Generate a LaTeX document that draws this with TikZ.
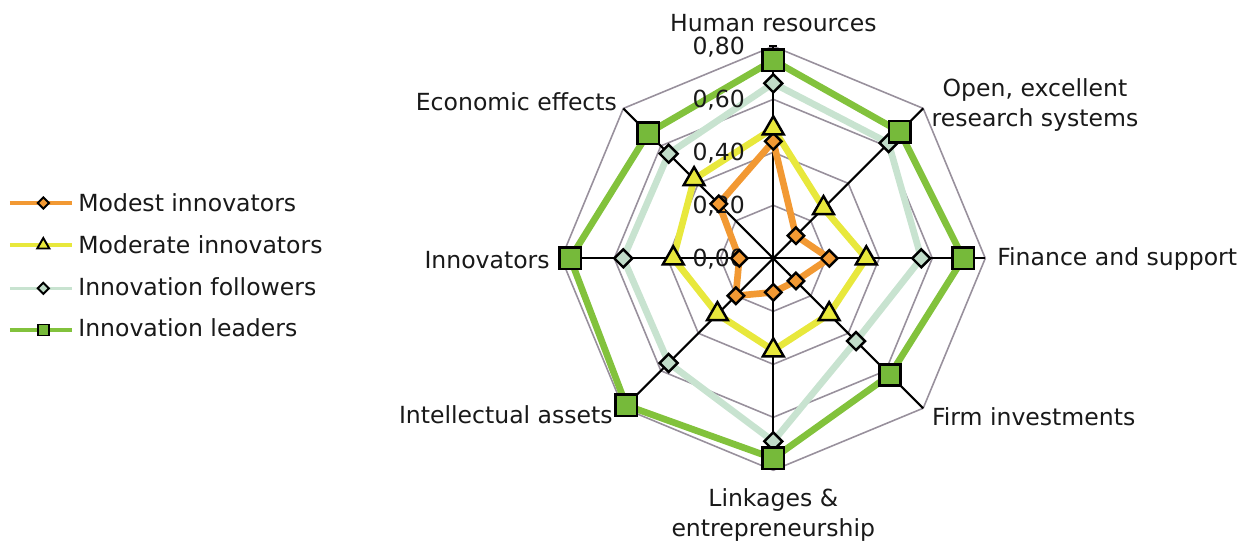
\documentclass[tikz,border=0pt]{standalone}
\usepackage{fontspec}
\setmainfont{DejaVu Sans}
\usetikzlibrary{shapes.geometric}

\pgfdeclarelayer{back}
\pgfdeclarelayer{lines}
\pgfsetlayers{back,lines,main}

\definecolor{gridgray}{RGB}{152,144,156}
\definecolor{modestc}{RGB}{242,153,51}
\definecolor{moderatec}{RGB}{232,232,60}
\definecolor{followerc}{RGB}{200,227,208}
\definecolor{followerfill}{RGB}{192,220,200}
\definecolor{leaderc}{RGB}{130,194,60}
\definecolor{leaderfill}{RGB}{118,186,58}

\tikzset{
  gridline/.style={draw=gridgray, line width=0.9pt, line join=round},
  spoke/.style={draw=black, line width=1.2pt},
  serie/.style={line width=3.8pt, line join=round},
  legline/.style={line width=1.9pt},
  modestmark/.style={diamond, draw=black, line width=1.4pt, fill=modestc,
    minimum size=0.35cm, inner sep=0pt},
  moderatemark/.style={regular polygon, regular polygon sides=3, draw=black,
    line width=1.4pt, fill=moderatec, minimum size=0.48cm, inner sep=0pt},
  followermark/.style={diamond, draw=black, line width=1.4pt, fill=followerfill,
    minimum size=0.38cm, inner sep=0pt},
  leadermark/.style={rectangle, draw=black, line width=1.5pt, fill=leaderfill,
    minimum size=0.43cm, inner sep=0pt},
  lab/.style={font=\fontsize{13.4}{17}\selectfont, inner sep=0pt, text=black!90},
}

\begin{document}
\begin{tikzpicture}[x=0.02cm, y=0.02cm]
\useasboundingbox (-773.3,-283.7) rectangle (475.7,258.3);

\coordinate (o) at (0,0);
\coordinate (hr) at (90:212);
\coordinate (oe) at (45:212);
\coordinate (fs) at (0:212);
\coordinate (fi) at (-45:212);
\coordinate (le) at (-90:212);
\coordinate (ia) at (-135:212);
\coordinate (inv) at (180:212);
\coordinate (ee) at (135:212);
\coordinate (tka) at (-4,212);
\coordinate (tkb) at (4,212);

% grid and axes
\begin{pgfonlayer}{back}
\draw[gridline] (90:53) -- (45:53) -- (0:53) -- (-45:53) -- (-90:53) -- (-135:53) -- (180:53) -- (135:53) -- cycle;
\draw[gridline] (90:106) -- (45:106) -- (0:106) -- (-45:106) -- (-90:106) -- (-135:106) -- (180:106) -- (135:106) -- cycle;
\draw[gridline] (90:159) -- (45:159) -- (0:159) -- (-45:159) -- (-90:159) -- (-135:159) -- (180:159) -- (135:159) -- cycle;
\draw[gridline] (hr) -- (oe) -- (fs) -- (fi) -- (le) -- (ia) -- (inv) -- (ee) -- cycle;

\draw[spoke] (o) -- (hr);
\draw[spoke] (tka) -- (tkb);
\draw[spoke] (o) -- (oe);
\draw[spoke] (o) -- (fs);
\draw[spoke] (o) -- (fi);
\draw[spoke] (o) -- (le);
\draw[spoke] (o) -- (ia);
\draw[spoke] (o) -- (inv);
\draw[spoke] (o) -- (ee);
\end{pgfonlayer}

\node[lab, anchor=base east] (t0) at (-28,-8.5) {0,00};
\node[lab, anchor=base east] (t1) at (-28,44.5) {0,20};
\node[lab, anchor=base east] (t2) at (-28,97.5) {0,40};
\node[lab, anchor=base east] (t3) at (-28,150.5) {0,60};
\node[lab, anchor=base east] (t4) at (-28,203.5) {0,80};

% modest innovators
\node[modestmark] (a1) at (90:117) {};
\node[modestmark] (a2) at (45:32) {};
\node[modestmark] (a3) at (0:56) {};
\node[modestmark] (a4) at (-45:32) {};
\node[modestmark] (a5) at (-90:34) {};
\node[modestmark] (a6) at (-135:53) {};
\node[modestmark] (a7) at (180:34) {};
\node[modestmark] (a8) at (135:77) {};

% moderate innovators
\node[moderatemark] (b1) at (90:130) {};
\node[moderatemark] (b2) at (45:71) {};
\node[moderatemark] (b3) at (0:93) {};
\node[moderatemark] (b4) at (-45:79) {};
\node[moderatemark] (b5) at (-90:92) {};
\node[moderatemark] (b6) at (-135:79) {};
\node[moderatemark] (b7) at (180:100) {};
\node[moderatemark] (b8) at (135:112) {};

% innovation followers
\node[followermark] (c1) at (90:175) {};
\node[followermark] (c2) at (45:163) {};
\node[followermark] (c3) at (0:148) {};
\node[followermark] (c4) at (-45:117) {};
\node[followermark] (c5) at (-90:183) {};
\node[followermark] (c6) at (-135:148) {};
\node[followermark] (c7) at (180:150) {};
\node[followermark] (c8) at (135:148) {};

% innovation leaders
\node[leadermark] (d1) at (90:198) {};
\node[leadermark] (d2) at (45:179) {};
\node[leadermark] (d3) at (0:190) {};
\node[leadermark] (d4) at (-45:165) {};
\node[leadermark] (d5) at (-90:200) {};
\node[leadermark] (d6) at (-135:208) {};
\node[leadermark] (d7) at (180:203) {};
\node[leadermark] (d8) at (135:177) {};

\begin{pgfonlayer}{lines}
\draw[serie, modestc] (a1.center) -- (a2.center) -- (a3.center) -- (a4.center) -- (a5.center) -- (a6.center) -- (a7.center) -- (a8.center) -- cycle;
\draw[serie, moderatec] (b1.center) -- (b2.center) -- (b3.center) -- (b4.center) -- (b5.center) -- (b6.center) -- (b7.center) -- (b8.center) -- cycle;
\draw[serie, followerc] (c1.center) -- (c2.center) -- (c3.center) -- (c4.center) -- (c5.center) -- (c6.center) -- (c7.center) -- (c8.center) -- cycle;
\draw[serie, leaderc] (d1.center) -- (d2.center) -- (d3.center) -- (d4.center) -- (d5.center) -- (d6.center) -- (d7.center) -- (d8.center) -- cycle;
\end{pgfonlayer}

% axis labels
\node[lab, anchor=base] (hrl) at (0,227) {Human resources};
\node[lab, anchor=north, align=center] (oel) at (261.7,180) {Open, excellent\\research systems};
\node[lab, anchor=base west] (fsl) at (223.7,-6.7) {Finance and support};
\node[lab, anchor=base west] (fil) at (158.4,-166.7) {Firm investments};
\node[lab, anchor=north, align=center] (lel) at (0,-230) {Linkages \&\\entrepreneurship};
\node[lab, anchor=base east] (ial) at (-160.3,-165) {Intellectual assets};
\node[lab, anchor=base east] (invl) at (-223.3,-10) {Innovators};
\node[lab, anchor=base east] (eel) at (-156,148.3) {Economic effects};

% legend
\coordinate (l1a) at (-763.3,55.3);
\coordinate (l1b) at (-701.3,55.3);
\draw[legline, modestc] (l1a) -- (l1b);
\node[modestmark, minimum size=0.24cm, line width=1.1pt] (l1m) at (-730,55.3) {};
\node[lab, anchor=base west] (l1) at (-695.3,46.6) {Modest innovators};

\coordinate (l2a) at (-763.3,13.3);
\coordinate (l2b) at (-701.3,13.3);
\draw[legline, moderatec] (l2a) -- (l2b);
\node[moderatemark, minimum size=0.28cm, line width=1.1pt] (l2m) at (-730,13.3) {};
\node[lab, anchor=base west] (l2) at (-695.3,5) {Moderate innovators};

\coordinate (l3a) at (-763.3,-30);
\coordinate (l3b) at (-701.3,-30);
\draw[legline, followerc] (l3a) -- (l3b);
\node[followermark, minimum size=0.24cm, line width=1.1pt] (l3m) at (-730,-30) {};
\node[lab, anchor=base west] (l3) at (-695.3,-36.7) {Innovation followers};

\coordinate (l4a) at (-763.3,-71.7);
\coordinate (l4b) at (-701.3,-71.7);
\draw[legline, leaderc] (l4a) -- (l4b);
\node[leadermark, minimum size=0.22cm, line width=1.1pt] (l4m) at (-730,-71.7) {};
\node[lab, anchor=base west] (l4) at (-695.3,-78.4) {Innovation leaders};
\end{tikzpicture}
\end{document}
